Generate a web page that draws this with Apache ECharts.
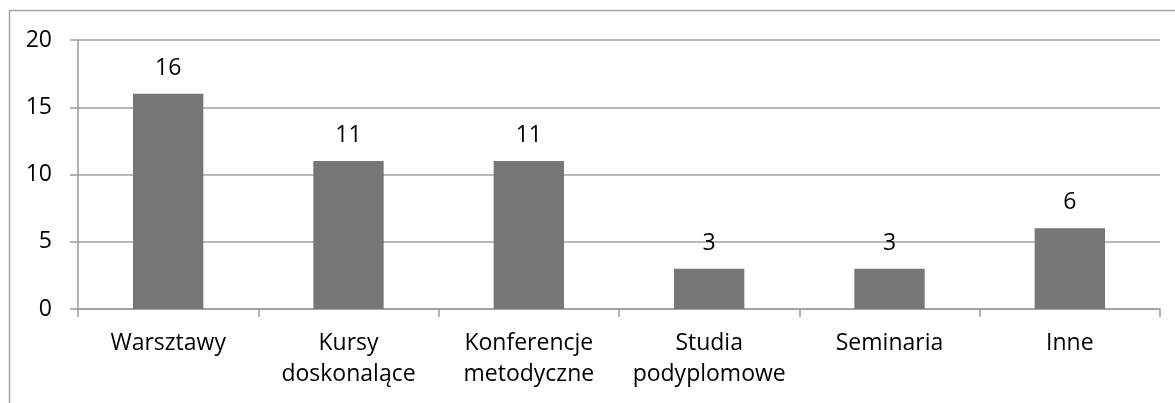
<!DOCTYPE html>
<html>
<head>
<meta charset="utf-8">
<script src="https://cdn.jsdelivr.net/npm/echarts@6/dist/echarts.min.js"></script>
<style>
  html, body { margin: 0; padding: 0; background: #fff; }
  #chart { width: 1175px; height: 403px; }
</style>
</head>
<body>
<div id="chart"></div>
<script>
// dane wykresu
var categories = ['Warsztawy', 'Kursy\ndoskonalące', 'Konferencje\nmetodyczne', 'Studia\npodyplomowe', 'Seminaria', 'Inne'];
var values = [16, 11, 11, 3, 3, 6];

var FONT = '"Open Sans", sans-serif';

var myChart = echarts.init(document.getElementById('chart'));
var chartOpt = {
  animation: false,
  backgroundColor: '#fff',
  graphic: [{
    // ramka wokół wykresu
    type: 'rect',
    shape: { x: 9.5, y: 10.5, width: 1200, height: 420 },
    style: { fill: 'none', stroke: '#a6a6a6', lineWidth: 1.5 },
    silent: true
  }],
  grid: { left: 78, right: 15, top: 40, bottom: 94, containLabel: false },
  xAxis: {
    type: 'category',
    data: categories,
    axisLine: { lineStyle: { color: '#9a9a9a', width: 1.5 } },
    axisTick: { show: true, length: 8, alignWithLabel: false, lineStyle: { color: '#9a9a9a', width: 1.5 } },
    axisLabel: { color: '#000', fontFamily: FONT, fontSize: 23, lineHeight: 31, margin: 19, interval: 0 }
  },
  yAxis: {
    type: 'value',
    min: 0, max: 20, interval: 5,
    axisLine: { show: true, lineStyle: { color: '#9a9a9a', width: 1.5 } },
    axisTick: { show: true, length: 8, lineStyle: { color: '#9a9a9a', width: 1.5 } },
    splitLine: { show: true, lineStyle: { color: '#a0a0a0', width: 1.5 } },
    axisLabel: { color: '#000', fontFamily: FONT, fontSize: 23, margin: 26 }
  },
  series: [{
    type: 'bar',
    data: values,
    barWidth: '39%',
    itemStyle: { color: '#767676' },
    label: { show: true, position: 'top', distance: 14, color: '#000', fontFamily: FONT, fontSize: 23 }
  }]
};
myChart.setOption(chartOpt);
</script>
</body>
</html>
